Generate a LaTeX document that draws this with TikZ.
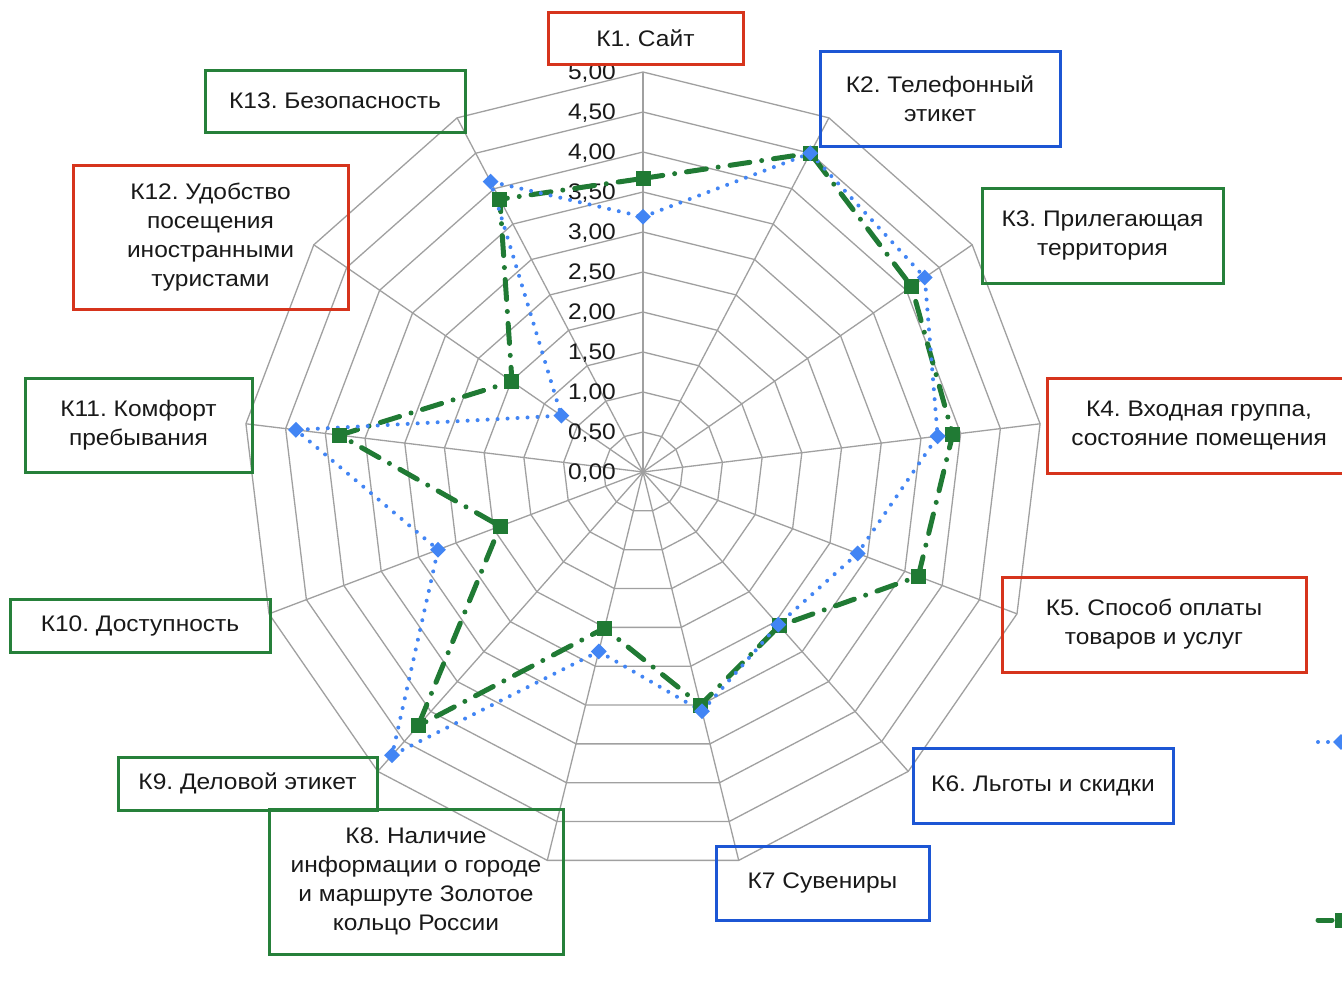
\documentclass[tikz,border=0pt]{standalone}
\usepackage{fontspec}
\setmainfont{Liberation Sans}[FakeStretch=1.09]
\usetikzlibrary{shapes.geometric}
\definecolor{gridc}{RGB}{160,160,160}
\definecolor{textc}{RGB}{25,25,25}
\definecolor{boxred}{RGB}{214,52,28}
\definecolor{boxblue}{RGB}{28,86,212}
\definecolor{boxgreen}{RGB}{38,128,58}
\definecolor{serblue}{RGB}{66,133,244}
\definecolor{sergreen}{RGB}{32,122,52}
\begin{document}
\begin{tikzpicture}[x=1pt,y=-1pt,
  gridline/.style={draw=gridc, line width=1.3pt},
  lbl/.style={draw, line width=3pt, align=center, inner sep=0pt, font=\fontsize{22.5}{29}\selectfont\frenchspacing, text=textc},
  redbox/.style={lbl, draw=boxred},
  bluebox/.style={lbl, draw=boxblue},
  greenbox/.style={lbl, draw=boxgreen},
  val/.style={anchor=east, inner sep=0pt, font=\fontsize{22.5}{26}\selectfont, text=textc},
  blueline/.style={draw=serblue, line width=4pt, line cap=round, dash pattern=on 0pt off 10pt},
  greenline/.style={draw=sergreen, line width=5pt, line cap=round, dash pattern=on 20pt off 12pt on 0pt off 12pt},
  bluemark/.style={diamond, fill=serblue, inner sep=0pt, minimum size=16pt},
  greenmark/.style={rectangle, fill=sergreen, inner sep=0pt, minimum size=15pt}
]
\useasboundingbox (0,0) rectangle (1342,996);
\fill[white] (0,0) rectangle (1342,996);
\clip (0,0) rectangle (1342,996);

\coordinate (C) at (643,472);
% grid rings
\foreach \i in {1,...,10}{
  \draw[gridline] ({643+40*\i*cos(90)},{472-40*\i*sin(90)})
    \foreach \k in {1,...,12}{ -- ({643+40*\i*cos(90-\k*360/13)},{472-40*\i*sin(90-\k*360/13)}) } -- cycle;
}
% spokes
\foreach \k in {0,...,12}{
  \coordinate (o\k) at ({643+400*cos(90-\k*360/13)},{472-400*sin(90-\k*360/13)});
  \draw[gridline] (C) -- (o\k);
}
% value labels
\foreach \i/\t in {0/{0,00},1/{0,50},2/{1,00},3/{1,50},4/{2,00},5/{2,50},6/{3,00},7/{3,50},8/{4,00},9/{4,50},10/{5,00}}{
  \node[val] (v\i) at (616,{473-40*\i}) {\t};
}

% series coordinates
\foreach \v [count=\k] in {3.19,4.5,4.28,3.71,2.87,2.55,3.08,2.31,4.73,2.74,4.37,1.24,4.1}{
  \coordinate (b\k) at ({643+80*\v*cos(90-(\k-1)*360/13)},{472-80*\v*sin(90-(\k-1)*360/13)});
}
\foreach \v [count=\k] in {3.67,4.5,4.08,3.9,3.68,2.57,3.0,2.01,4.24,1.91,3.82,1.99,3.85}{
  \coordinate (g\k) at ({643+80*\v*cos(90-(\k-1)*360/13)},{472-80*\v*sin(90-(\k-1)*360/13)});
}
\draw[greenline] (g1) -- (g2) -- (g3) -- (g4) -- (g5) -- (g6) -- (g7) -- (g8) -- (g9) -- (g10) -- (g11) -- (g12) -- (g13) -- cycle;
\draw[blueline] (b1) -- (b2) -- (b3) -- (b4) -- (b5) -- (b6) -- (b7) -- (b8) -- (b9) -- (b10) -- (b11) -- (b12) -- (b13) -- cycle;
\foreach \k in {1,...,13}{
  \node[greenmark] (mg\k) at (g\k) {};
  \node[bluemark] (mb\k) at (b\k) {};
}

% partial legend at right edge
\coordinate (lb1) at (1318,742);
\coordinate (lb2) at (1352,742);
\draw[blueline] (lb1) -- (lb2);
\node[bluemark] (lbm) at (1341,742) {};
\coordinate (lg1) at (1318,920);
\coordinate (lg2) at (1352,920);
\draw[greenline, dash pattern=on 14pt off 20pt] (lg1) -- (lg2);
\node[greenmark] (lgm) at (1342,920) {};

% category boxes
\node[redbox, minimum width=195pt, minimum height=52pt] (k1) at (645.5,38) {К1. Сайт};
\node[bluebox, minimum width=240pt, minimum height=95pt] (k2) at (940,98.5) {К2. Телефонный\\этикет};
\node[greenbox, minimum width=241pt, minimum height=95pt] (k3) at (1102.5,235.5) {К3. Прилегающая\\территория};
\node[redbox, minimum width=304pt, minimum height=95pt] (k4) at (1199,425.5) {К4. Входная группа,\\состояние помещения};
\node[redbox, minimum width=304pt, minimum height=95pt] (k5) at (1154,624.5) {К5. Способ оплаты\\товаров и услуг};
\node[bluebox, minimum width=260pt, minimum height=75pt] (k6) at (1043,785.5) {К6. Льготы и скидки};
\node[bluebox, minimum width=213pt, minimum height=74pt] (k7) at (822.5,883) {К7 Сувениры};
\node[greenbox, minimum width=294pt, minimum height=145pt] (k8) at (416,881.5) {К8. Наличие\\информации о городе\\и маршруте Золотое\\кольцо России};
\node[greenbox, minimum width=259pt, minimum height=53pt] (k9) at (247.5,783.5) {К9. Деловой этикет};
\node[greenbox, minimum width=260pt, minimum height=53pt] (k10) at (140,625.5) {К10. Доступность};
\node[greenbox, minimum width=227pt, minimum height=94pt] (k11) at (138.5,425) {К11. Комфорт\\пребывания};
\node[redbox, minimum width=275pt, minimum height=144pt] (k12) at (210.5,237) {К12. Удобство\\посещения\\иностранными\\туристами};
\node[greenbox, minimum width=260pt, minimum height=62pt] (k13) at (335,101) {К13. Безопасность};
\end{tikzpicture}
\end{document}
